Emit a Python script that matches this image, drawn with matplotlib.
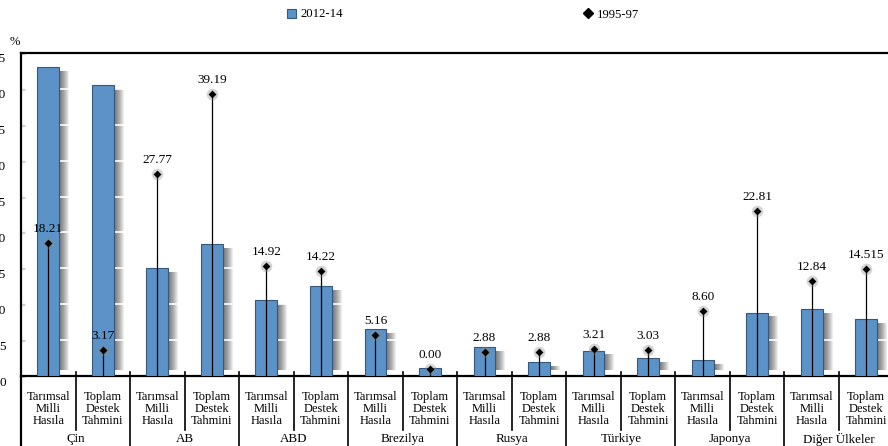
import numpy as np
import matplotlib
matplotlib.use("Agg")
import matplotlib.pyplot as plt
import matplotlib.transforms as mtransforms
from matplotlib.patches import Rectangle
from matplotlib.lines import Line2D

plt.rcParams['font.family'] = ['Liberation Serif', 'DejaVu Serif']

groups = ['Çin', 'AB', 'ABD', 'Brezilya', 'Rusya', 'Türkiye', 'Japonya', 'Diğer Ülkeler']
sub_labels = ['Tarımsal\nMilli\nHasıla', 'Toplam\nDestek\nTahmini']

# 2012-14 bars, order: group x (TMH, TDT)
bars_2012 = [43.0, 40.5, 15.0, 18.4, 10.6, 12.5, 6.5, 1.1,
             4.0, 1.9, 3.5, 2.5, 2.2, 8.8, 9.3, 7.9]
# 1995-97 points (positions)
pts_1995 = [18.5, 3.6, 28.1, 39.3, 15.3, 14.6, 5.7, 1.0,
            3.3, 3.3, 3.8, 3.6, 9.1, 23.0, 13.2, 14.9]
# printed labels of 1995-97 points
pt_labels = ['18.21', '3.17', '27.77', '39.19', '14.92', '14.22', '5.16', '0.00',
             '2.88', '2.88', '3.21', '3.03', '8.60', '22.81', '12.84', '14.515']

bar_color = '#5b93c8'
edge_color = '#35587c'

W, H = 888, 446
fig = plt.figure(figsize=(W / 100, H / 100), dpi=100)
ax = fig.add_axes([21 / W, 70 / H, 872.5 / W, 323 / H])

x = np.arange(len(bars_2012))
bw = 0.4
slot_px = 872.5 / 16

# soft drop shadows to the right of each bar
for xi, h in zip(x, bars_2012):
    top = max(h - 0.5, 0.9)
    for k in range(1, 11):
        off = k / slot_px
        ax.add_patch(Rectangle((xi - bw / 2 + off, 0.8), bw, top - 0.8,
                               facecolor='black', alpha=0.07, lw=0, zorder=1))

# white grid lines cutting through the shadows
for g in range(5, 45, 5):
    ax.axhline(g, color='white', lw=1.2, zorder=2)

ax.bar(x, bars_2012, width=bw, color=bar_color, edgecolor=edge_color,
       linewidth=0.8, zorder=3)

# stems and markers for 1995-97
for xi, v, lab in zip(x, pts_1995, pt_labels):
    ax.plot([xi, xi], [0, v], color='black', lw=0.9, zorder=4)
    ax.scatter([xi], [v], s=70, color='#888888', alpha=0.35, lw=0, zorder=5)
    ax.scatter([xi], [v], marker='D', s=16, color='black', lw=0, zorder=6)
    ax.annotate(lab, (xi, v), xytext=(0, 10), textcoords='offset points',
                ha='center', va='center', fontsize=9.5, zorder=7)

ax.set_xlim(-0.5, 15.5)
ax.set_ylim(0, 45)
ax.set_yticks(np.arange(0, 50, 5))
ax.tick_params(axis='y', direction='in', length=3, width=1, pad=11, labelsize=9.5)
shift = mtransforms.ScaledTranslation(0, -5 / 100, fig.dpi_scale_trans)
for t in ax.get_yticklabels():
    t.set_transform(t.get_transform() + shift)
ax.set_xticks([])

for s in ['top', 'left', 'bottom']:
    ax.spines[s].set_linewidth(1.6)
ax.spines['right'].set_visible(False)

trans = mtransforms.blended_transform_factory(ax.transData, ax.transAxes)
ax_h = 323.0

def ay(py):
    return (376 - py) / ax_h

# category labels and separators
for i in range(len(x)):
    ax.text(x[i], ay(409), sub_labels[i % 2], transform=trans, ha='center',
            va='center', fontsize=9, linespacing=1.05)
    if i > 0:
        bottom = ay(446) if i % 2 == 0 else ay(430)
        ax.add_line(Line2D([i - 0.5, i - 0.5], [ay(372), bottom], transform=trans,
                           color='black', lw=1.2, clip_on=False))
ax.add_line(Line2D([-0.5, -0.5], [0, ay(446)], transform=trans,
                   color='black', lw=1.6, clip_on=False))
for gi, g in enumerate(groups):
    ax.text(2 * gi + 0.5, ay(439), g, transform=trans, ha='center', va='center',
            fontsize=9.4)

# legend and unit label
fig.patches.append(Rectangle((287 / W, 1 - 18 / H), 9 / W, 9 / H, transform=fig.transFigure,
                             facecolor=bar_color, edgecolor=edge_color, lw=0.8))
fig.text(300 / W, 1 - 14 / H, '2012-14', fontsize=9.2, va='center')
fig.add_artist(Line2D([588 / W], [1 - 13 / H], marker='D', markersize=5, color='black',
                     transform=fig.transFigure, lw=0))
fig.text(597 / W, 1 - 15 / H, '1995-97', fontsize=9.2, va='center')
fig.text(10 / W, 1 - 42 / H, '%', fontsize=9, va='center')

fig.savefig('out.png', dpi=100)
